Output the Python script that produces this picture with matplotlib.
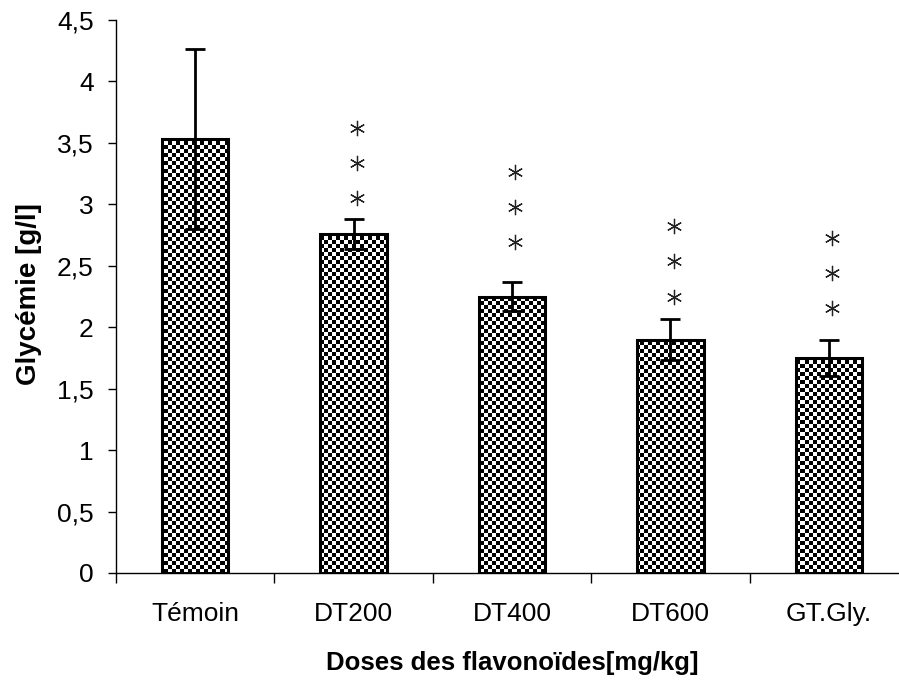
import numpy as np
import matplotlib
matplotlib.use('Agg')
import matplotlib.pyplot as plt

plt.rcParams['font.family'] = ['Liberation Sans', 'DejaVu Sans']

# glycémie moyenne et écart par groupe
groupes = ['Témoin', 'DT200', 'DT400', 'DT600', 'GT.Gly.']
glycemie = [3.53, 2.76, 2.25, 1.90, 1.75]
erreur = [0.73, 0.12, 0.12, 0.17, 0.15]
# étoiles de significativité (None = pas d'étoiles)
signif = [None, '***', '***', '***', '***']
etoile_bas = [None, 3.05, 2.69, 2.25, 2.16]

W, H = 899, 692
AX_L, AX_B, AX_W, AX_H = 116, 119, 792, 553
fig = plt.figure(figsize=(W / 100, H / 100), dpi=100)
ax = fig.add_axes([AX_L / W, AX_B / H, AX_W / W, AX_H / H])

x = np.arange(len(groupes))
bars = ax.bar(x, glycemie, width=0.42, facecolor='none', edgecolor='black',
              linewidth=2.2, zorder=3)

# remplissage en damier (cases de 4 px) découpé sur chaque barre
case = 4
ncol = AX_W // case
nlig = AX_H // case
damier = (np.add.outer(np.arange(nlig), np.arange(ncol)) % 2).astype(float)
x_fin = -0.5 + len(groupes) * ncol * case / AX_W
y_fin = 4.5 * nlig * case / AX_H
for b in bars:
    im = ax.imshow(damier, cmap='gray', interpolation='nearest', aspect='auto',
                   extent=(-0.5, x_fin, 0, y_fin), origin='lower', zorder=2)
    im.set_clip_path(b)
ax.set_xlim(-0.5, len(groupes) - 0.5)
ax.set_ylim(0, 4.5)

ax.errorbar(x, glycemie, yerr=erreur, fmt='none', ecolor='black',
            elinewidth=2, capsize=7, capthick=2, zorder=4)

# étoiles au-dessus des barres
pas = 0.285
for xi, s, yb in zip(x, signif, etoile_bas):
    if s is None:
        continue
    for k in range(len(s)):
        ax.plot(xi + 0.02, yb + k * pas, marker=(6, 2, 0), markersize=11,
                color='#222222', markeredgewidth=0.9, zorder=5)

ax.spines['top'].set_visible(False)
ax.spines['right'].set_visible(False)
ax.spines['left'].set_linewidth(1.0)
ax.spines['bottom'].set_linewidth(1.0)

ax.set_yticks(np.arange(0, 4.51, 0.5))
ax.set_yticklabels([f'{v:g}'.replace('.', ',') for v in np.arange(0, 4.51, 0.5)])
ax.set_xticks(np.arange(-0.5, len(groupes), 1.0))
ax.set_xticklabels([])
ax.set_xticks(x, minor=True)
ax.set_xticklabels(groupes, minor=True)
ax.tick_params(axis='x', which='major', direction='out', length=7, width=1)
ax.tick_params(axis='x', which='minor', length=0, pad=21, labelsize=19)
ax.tick_params(axis='y', direction='out', length=6, width=1, pad=10, labelsize=19)

ax.set_ylabel('Glycémie [g/l]', fontsize=20, fontweight='bold')
ax.set_xlabel('Doses des flavonoïdes[mg/kg]', fontsize=18.5, fontweight='bold')
ax.yaxis.set_label_coords((42 - AX_L) / AX_W, 0.505)
ax.xaxis.set_label_coords((512 - AX_L) / AX_W, -(651 - 573) / AX_H)

fig.savefig('out.png', dpi=100)
